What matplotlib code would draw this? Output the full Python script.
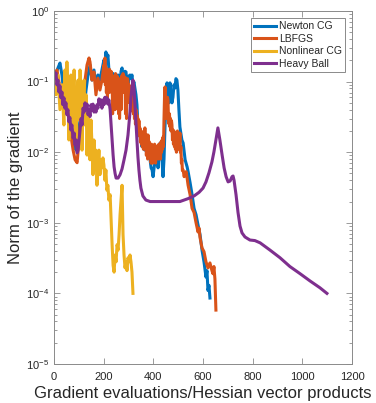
import numpy as np
import matplotlib
matplotlib.use('Agg')
import matplotlib.pyplot as plt
from matplotlib.ticker import FixedLocator, LogLocator, NullFormatter

plt.rcParams['font.family'] = ['Liberation Sans', 'DejaVu Sans']
plt.rcParams['mathtext.fontset'] = 'custom'
plt.rcParams['mathtext.rm'] = 'Liberation Sans'
plt.rcParams['mathtext.it'] = 'Liberation Sans'

# donnees
newton_x = [4, 16, 24, 32, 40, 48, 56, 64, 72, 81, 89, 97, 105, 113, 121, 129, 137, 145, 153, 161,
            169, 177, 185, 193,
            201, 205, 209, 213, 217, 221, 226, 230, 234, 238, 242, 246, 250, 254, 258, 262, 266,
            270, 274, 278, 282, 286, 290, 294, 298, 302, 306, 310, 314, 318, 322, 326, 330, 334,
            338, 342, 346, 350, 354, 358, 362, 366, 370, 374, 379, 383, 387, 391, 395, 399, 403,
            407, 411, 415, 419, 423, 427, 431, 435, 439, 443, 447, 451, 455, 459, 463, 467, 471,
            475, 479, 483, 487, 491, 495, 499, 503, 507,
            515, 520, 528, 536, 540, 548, 556, 564, 572, 580, 588, 596, 604, 612, 616, 620, 624, 628]
newton_y = [0.124, 0.156, 0.183, 0.124, 0.065, 0.090, 0.040, 0.055, 0.0206, 0.0126, 0.0107, 0.0175,
            0.0286, 0.055, 0.040, 0.076, 0.124, 0.172, 0.105, 0.146, 0.090, 0.124, 0.105, 0.146,
            0.202, 0.12, 0.263, 0.20, 0.238, 0.15, 0.137, 0.10, 0.090, 0.13, 0.124, 0.085, 0.076,
            0.12, 0.124, 0.09, 0.090, 0.14, 0.156, 0.10, 0.105, 0.14, 0.137, 0.09, 0.076, 0.12,
            0.124, 0.11, 0.124, 0.09, 0.099, 0.08, 0.065, 0.047, 0.0243, 0.02, 0.0175, 0.015, 0.012,
            0.014, 0.011, 0.0107, 0.0107, 0.013, 0.0126, 0.009, 0.0078, 0.006, 0.0056, 0.0045,
            0.006, 0.0073, 0.009, 0.0098, 0.0060, 0.009, 0.0135, 0.01, 0.0078, 0.0045, 0.008,
            0.0228, 0.05, 0.096, 0.069, 0.05, 0.096, 0.06, 0.050, 0.060, 0.09, 0.081, 0.11, 0.105,
            0.076, 0.04, 0.0228,
            0.0149, 0.0135, 0.0078, 0.0062, 0.0053, 0.0037, 0.0025, 0.0016, 0.0013, 0.00093,
            0.00068, 0.00041, 0.00028, 0.00017, 0.00021, 0.00011, 0.00013, 0.000086]

lbfgs_x = [4, 12, 20, 28, 36, 44, 52, 60, 68, 77, 85, 93, 101, 109, 117, 125, 133, 141, 145, 153,
           161, 169, 177, 185, 193,
           201, 203, 205, 207, 209, 211, 213, 215, 217, 219, 221, 223, 226, 228, 230, 232, 234,
           236, 238, 240, 242, 244, 246, 248, 250, 252, 254, 256, 258, 260, 262, 264, 266, 268,
           270, 272, 274, 276, 278, 280, 282, 284, 286, 288, 290, 292, 294, 296, 298, 300, 302,
           304, 306, 308, 310, 312, 314, 316, 318, 320, 322, 324, 326, 328, 330, 332, 334, 336,
           338, 340, 342, 344, 346, 348, 350, 352, 354, 356, 358, 360, 362, 364, 366, 368, 370,
           372, 375, 377, 379, 382, 384, 387, 389, 391, 393, 395, 397, 399, 401, 403, 405, 407,
           409, 411, 413, 415, 417, 419, 421, 423, 425, 427, 429, 431, 433, 435, 437, 439, 441,
           443, 445, 447, 449, 451, 453, 455, 457, 459, 461, 463, 465, 467, 469, 471, 473, 475,
           477, 479, 481, 483, 485, 487, 489, 491, 493, 495, 497, 499, 501, 503, 505, 507, 509,
           511, 513, 515, 517, 520, 524, 528, 532, 536, 540,
           548, 556, 564, 572, 580, 584, 588, 596, 604, 608, 612, 620, 628, 636, 640, 644, 648, 652]
lbfgs_y = [0.124, 0.146, 0.099, 0.065, 0.090, 0.047, 0.055, 0.0286, 0.0175, 0.0107, 0.0078, 0.0071,
           0.0149, 0.034, 0.055, 0.105, 0.172, 0.216, 0.190, 0.105, 0.137, 0.065, 0.112, 0.076,
           0.105,
           0.172, 0.10, 0.216, 0.09, 0.16, 0.07, 0.124, 0.06, 0.081, 0.13, 0.07, 0.15, 0.137, 0.08,
           0.14, 0.07, 0.124, 0.035, 0.11, 0.065, 0.076, 0.12, 0.04, 0.13, 0.099, 0.07, 0.12, 0.08,
           0.112, 0.035, 0.10, 0.03, 0.065, 0.11, 0.04, 0.12, 0.099, 0.07, 0.13, 0.08, 0.112,
           0.07, 0.116, 0.035, 0.10, 0.03, 0.076, 0.11, 0.099, 0.06, 0.09, 0.05, 0.081, 0.045,
           0.07, 0.04, 0.065, 0.038, 0.055, 0.035, 0.047, 0.03, 0.042, 0.025, 0.04, 0.024, 0.034,
           0.02, 0.030, 0.018, 0.028, 0.017, 0.0221, 0.014, 0.02, 0.013, 0.0187, 0.012, 0.0159,
           0.011, 0.02, 0.012, 0.0221, 0.011, 0.0149, 0.009, 0.0175, 0.008, 0.0175, 0.009, 0.014,
           0.0086, 0.012, 0.007, 0.013, 0.0107, 0.007, 0.0078, 0.012, 0.008, 0.013, 0.0101, 0.007,
           0.011, 0.008, 0.0107, 0.009, 0.0126, 0.008, 0.013, 0.009, 0.0119, 0.008, 0.014, 0.01,
           0.0149, 0.011, 0.0164, 0.012, 0.03, 0.06, 0.084, 0.05, 0.047, 0.03, 0.040, 0.06, 0.055,
           0.03, 0.025, 0.035, 0.0228, 0.03, 0.02, 0.028, 0.0243, 0.015, 0.0206, 0.013, 0.02,
           0.012, 0.0175, 0.011, 0.016, 0.01, 0.0135, 0.02, 0.0159, 0.011, 0.018, 0.012, 0.0187,
           0.01, 0.012, 0.007, 0.0078, 0.0055, 0.0056, 0.0045, 0.005, 0.0053, 0.0043, 0.0034,
           0.0025, 0.0016, 0.0014, 0.0010, 0.00074, 0.00084, 0.00062, 0.00044, 0.00039, 0.00033,
           0.00028, 0.00023, 0.00027, 0.00021, 0.00019, 0.00024, 0.00016, 0.000058]

ncg_x = [0, 8, 16, 24, 32, 40, 44, 48, 52, 56, 60, 64, 68, 72, 77, 81, 85, 89, 93, 97, 101, 105,
         109, 113, 117, 121, 125, 129, 133, 137, 141, 145, 149, 153, 157, 161, 165, 169, 173, 177,
         181, 185, 189, 193, 197, 201, 205, 209, 213, 217, 221, 226, 230, 234, 238, 242, 246, 250,
         254, 258, 262, 266, 270, 274, 278, 282, 286, 290, 294, 298, 302, 306, 310, 314, 318]
ncg_y = [0.105, 0.065, 0.124, 0.040, 0.090, 0.0243, 0.146, 0.055, 0.190, 0.076, 0.0149, 0.065,
         0.124, 0.0206, 0.076, 0.146, 0.034, 0.0126, 0.065, 0.105, 0.0286, 0.146, 0.047, 0.0107,
         0.055, 0.105, 0.0243, 0.065, 0.0091, 0.040, 0.0206, 0.0078, 0.0286, 0.0126, 0.0048,
         0.0149, 0.0066, 0.0107, 0.0034, 0.0066, 0.0107, 0.0048, 0.0078, 0.0060, 0.0083, 0.0066,
         0.0040, 0.0056, 0.0029, 0.0034, 0.0021, 0.0025, 0.0011, 0.00049, 0.00025, 0.00020,
         0.00035, 0.00028, 0.00049, 0.00041, 0.00068, 0.0013, 0.0021, 0.0034, 0.00068, 0.00035,
         0.00023, 0.00028, 0.00021, 0.00032, 0.00028, 0.00035, 0.00028, 0.00020, 0.00010]

hb_x = [0, 4, 8, 12, 16, 20, 24, 28, 32, 36, 40, 44, 48, 52, 56, 60, 64, 68, 72, 77, 81, 85, 89,
        93, 97, 101, 105, 109, 113, 117, 121, 125, 129, 133, 137, 141, 145, 149, 153, 157, 161, 165,
        169, 173, 177, 181, 185, 189, 193, 197, 201, 205, 209, 213, 217, 221, 226, 230, 234, 238,
        242, 246, 250, 258, 266, 274, 282, 290, 298, 306, 310, 314, 318, 322, 326, 330, 334, 338,
        342, 346, 350, 358, 370, 387, 427, 467, 507, 540, 564, 584, 600, 612, 624, 636, 644, 652,
        660, 668, 677, 685, 693, 701, 709, 717, 721, 725, 733, 741, 749, 757, 769, 789, 809, 830,
        870, 910, 950, 991, 1031, 1071, 1099]
hb_y = [0.137, 0.112, 0.132, 0.090, 0.105, 0.071, 0.087, 0.059, 0.071, 0.047, 0.059, 0.042, 0.050,
        0.034, 0.040, 0.027, 0.031, 0.0206, 0.0243, 0.0159, 0.0187, 0.0126, 0.0149, 0.0098, 0.0107,
        0.0149, 0.0206, 0.030, 0.0243, 0.042, 0.037, 0.050, 0.040, 0.048, 0.034, 0.040, 0.032,
        0.047, 0.040, 0.048, 0.037, 0.044, 0.037, 0.047, 0.042, 0.057, 0.048, 0.055, 0.042, 0.055,
        0.047, 0.060, 0.050, 0.059, 0.048, 0.055, 0.040, 0.0243, 0.0149, 0.0091, 0.0062, 0.0050,
        0.0043, 0.0043, 0.0048, 0.0058, 0.0078, 0.0107, 0.0175, 0.037, 0.059, 0.084, 0.105, 0.081,
        0.047, 0.0268, 0.0149, 0.0086, 0.0056, 0.0040, 0.0031, 0.0024, 0.0021, 0.0020, 0.0020,
        0.0020, 0.0020, 0.0022, 0.0024, 0.0027, 0.0031, 0.0038, 0.0051, 0.0073, 0.0101, 0.0149,
        0.0221, 0.0149, 0.0091, 0.0060, 0.0045, 0.0038, 0.0039, 0.0045, 0.0046, 0.0040, 0.0025,
        0.0014, 0.00090, 0.00072, 0.00063, 0.00057, 0.00056, 0.00052, 0.00041, 0.00032, 0.00024,
        0.00019, 0.00015, 0.00012, 0.00010]

names = ['Newton CG', 'LBFGS', 'Nonlinear CG', 'Heavy Ball']
colors = ['#0072BD', '#D95319', '#EDB120', '#7E2F8E']
gris = '#8a8a8a'
texte = '#262626'

fig = plt.figure(figsize=(3.76, 4.03), dpi=100)
ax = fig.add_axes([0.1436, 0.0968, 0.7926, 0.8759])

series = [(newton_x, newton_y), (lbfgs_x, lbfgs_y), (ncg_x, ncg_y), (hb_x, hb_y)]
for (xs, ys), nom, c in zip(series, names, colors):
    ax.semilogy(xs, ys, color=c, lw=2.2, label=nom)

ax.set_xlim(0, 1200)
ax.set_ylim(1e-5, 1)
ax.xaxis.set_major_locator(FixedLocator([0, 200, 400, 600, 800, 1000, 1200]))
ax.yaxis.set_minor_locator(LogLocator(base=10, subs=np.arange(2, 10), numticks=10))
ax.yaxis.set_minor_formatter(NullFormatter())
ax.set_yticks([1e-5, 1e-4, 1e-3, 1e-2, 1e-1, 1])
ax.set_yticklabels(['10$^{-5}$', '10$^{-4}$', '10$^{-3}$', '10$^{-2}$', '10$^{-1}$', '10$^{0}$'])

ax.tick_params(which='both', direction='in', top=True, right=True, colors=gris,
               labelcolor=texte, labelsize=8, width=0.6)
ax.tick_params(which='major', length=4)
ax.tick_params(which='minor', length=2)
ax.tick_params(axis='x', pad=6)
for s in ax.spines.values():
    s.set_color(gris)
    s.set_linewidth(0.7)

ax.set_xlabel('Gradient evaluations/Hessian vector products', fontsize=12, color=texte, labelpad=3)
ax.set_ylabel('Norm of the gradient', fontsize=12, color=texte, labelpad=2)

leg = ax.legend(loc='upper right', bbox_to_anchor=(0.977, 0.980), borderaxespad=0,
                fontsize=7.5, fancybox=False, framealpha=1, edgecolor=gris,
                handlelength=2.1, handletextpad=0.3, labelspacing=0.25, borderpad=0.3)
leg.get_frame().set_linewidth(0.7)
for t in leg.get_texts():
    t.set_color(texte)

fig.savefig('out.png', dpi=100)
